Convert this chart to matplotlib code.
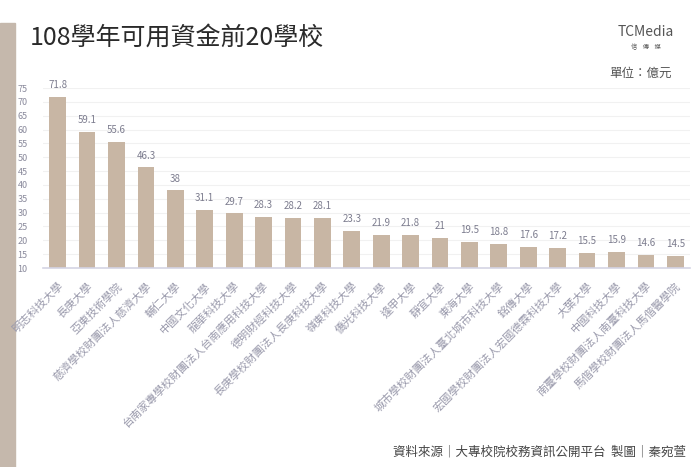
import matplotlib.pyplot as plt
import numpy as np

plt.rcParams['font.family'] = ['Noto Sans CJK TC', 'DejaVu Sans']

schools = ['明志科技大學', '長庚大學', '亞東技術學院', '慈濟學校財團法人慈濟大學', '輔仁大學',
           '中國文化大學', '龍華科技大學', '台南家專學校財團法人台南應用科技大學', '德明財經科技大學',
           '長庚學校財團法人長庚科技大學', '嶺東科技大學', '僑光科技大學', '逢甲大學', '靜宜大學',
           '東海大學', '城市學校財團法人臺北城市科技大學', '銘傳大學', '宏國學校財團法人宏國德霖科技大學',
           '大葉大學', '中國科技大學', '南臺學校財團法人南臺科技大學', '馬偕學校財團法人馬偕醫學院']
funds = [71.8, 59.1, 55.6, 46.3, 38, 31.1, 29.7, 28.3, 28.2, 28.1, 23.3,
         21.9, 21.8, 21, 19.5, 18.8, 17.6, 17.2, 15.5, 15.9, 14.6, 14.5]
yticks = list(range(10, 80, 5))

bar_color = '#c8b6a4'
label_color = '#8a8a9c'

fig = plt.figure(figsize=(7, 4.67), dpi=100)
fig.patch.set_facecolor('white')

# decorative strip on the left, kept behind everything
strip = plt.Rectangle((0, 0), 15 / 700, 1 - 23 / 467, transform=fig.transFigure,
                      color='#c5b8ac', zorder=-5)
fig.patches.append(strip)

ax = fig.add_axes([43 / 700, 1 - 268 / 467, 647 / 700, 180 / 467])
ax.patch.set_alpha(0)
x = np.arange(len(schools))
ax.bar(x, funds, width=0.57, color=bar_color, zorder=2)
for xi, v in zip(x, funds):
    ax.annotate(f'{v:g}', (xi, v), xytext=(0, 5), textcoords='offset points',
                ha='center', va='bottom', fontsize=7, color='#7c7c8e')

ax.set_xlim(-0.5, len(schools) - 0.5)
ax.set_ylim(10, 75)
ax.set_yticks(yticks)
ax.tick_params(axis='y', length=0, labelsize=6.5, labelcolor=label_color, pad=11)
ax.set_xticks(x)
ax.set_xticklabels(schools, rotation=45, ha='right', rotation_mode='anchor',
                   fontsize=8, color='#9a9aac')
ax.tick_params(axis='x', length=0, pad=9)
ax.grid(axis='y', color='#f1f1f1', linewidth=0.8, zorder=0)
for s in ['top', 'right', 'left']:
    ax.spines[s].set_visible(False)
ax.spines['bottom'].set_color('#d4d4e4')
ax.spines['bottom'].set_linewidth(1.2)

fig.text(30 / 700, 1 - 38 / 467, '108學年可用資金前20學校', fontsize=18, fontweight='medium',
         color='#2a2a2a', va='center', ha='left')
fig.text(646 / 700, 1 - 32 / 467, 'TCMedia', fontsize=10, color='#555555',
         va='center', ha='center', fontweight='light')
fig.text(646 / 700, 1 - 47 / 467, '信    傳    媒', fontsize=4.5, color='#555555',
         va='center', ha='center')
fig.text(672 / 700, 1 - 73 / 467, '單位：億元', fontsize=9, color='#555555',
         va='center', ha='right')
fig.text(686 / 700, 1 - 452 / 467, '資料來源｜大專校院校務資訊公開平台  製圖｜秦宛萱', fontsize=9,
         color='#444444', va='center', ha='right')

fig.savefig('out.png', dpi=100)
